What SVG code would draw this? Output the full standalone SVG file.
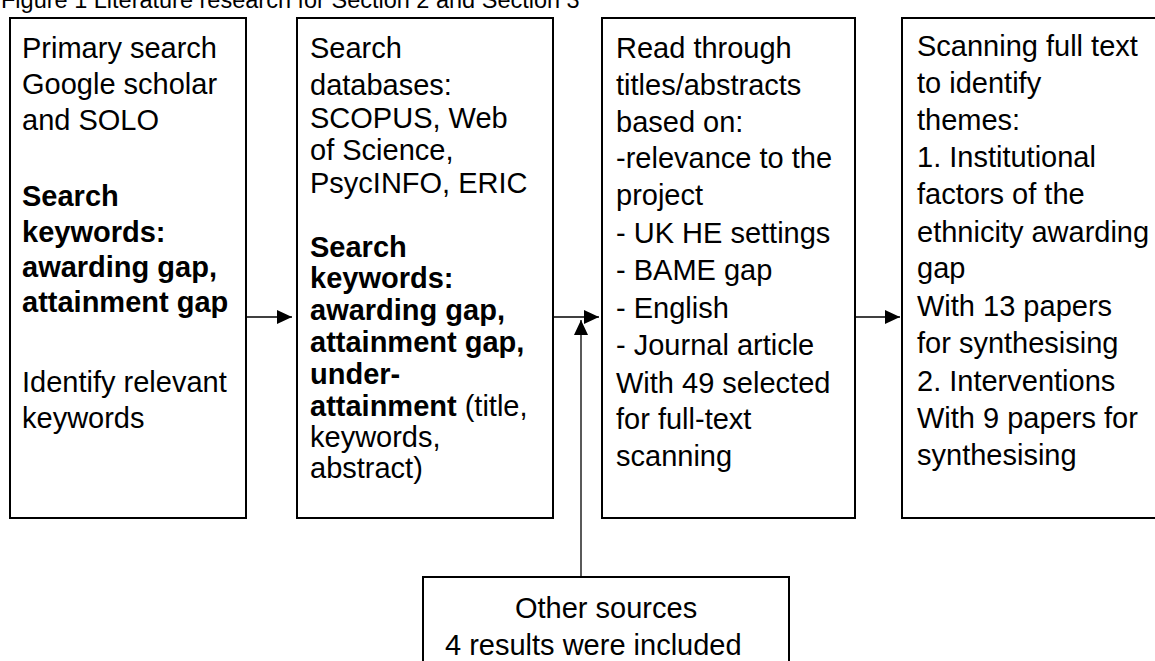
<svg xmlns="http://www.w3.org/2000/svg" width="1155" height="661" viewBox="0 0 1155 661">
<style>
text{font-family:"Liberation Sans",Arial,sans-serif;font-size:29px;fill:#000}
.b{font-weight:bold}
.box{fill:#fff;stroke:#000;stroke-width:2}
.conn{stroke:#000;stroke-width:1.3;fill:none}
.title{font-size:23.5px}
</style>
<defs>
<marker id="ah" markerUnits="userSpaceOnUse" markerWidth="16" markerHeight="16" refX="15" refY="7" orient="auto">
<path d="M0,0 L15,7 L0,14 Z" fill="#000"/>
</marker>
</defs>
<rect width="1155" height="661" fill="#fff"/>
<text class="title" x="1" y="8">Figure 1 Literature research for Section 2 and Section 3</text>
<g id="connectors">
<line class="conn" x1="247" y1="317" x2="292" y2="317" marker-end="url(#ah)"/>
<line class="conn" x1="554" y1="317" x2="599" y2="317" marker-end="url(#ah)"/>
<line class="conn" x1="856" y1="317" x2="900" y2="317" marker-end="url(#ah)"/>
<line class="conn" x1="581" y1="583" x2="581" y2="320" marker-end="url(#ah)"/>
</g>
<g id="n1">
<rect class="box" x="10" y="18" width="236" height="500"/>
<text x="22" y="58">Primary search</text>
<text x="22" y="94">Google scholar</text>
<text x="22" y="130">and SOLO</text>
<text class="b" x="22" y="206">Search</text>
<text class="b" x="22" y="242">keywords:</text>
<text class="b" x="22" y="277">awarding gap,</text>
<text class="b" x="22" y="312">attainment gap</text>
<text x="22" y="392">Identify relevant</text>
<text x="22" y="428">keywords</text>
</g>
<g id="n2">
<rect class="box" x="297" y="18" width="256" height="500"/>
<text x="310" y="58">Search</text>
<text x="310" y="95">databases:</text>
<text x="310" y="128">SCOPUS, Web</text>
<text x="310" y="160">of Science,</text>
<text x="310" y="193">PsycINFO, ERIC</text>
<text class="b" x="310" y="257">Search</text>
<text class="b" x="310" y="288">keywords:</text>
<text class="b" x="310" y="320">awarding gap,</text>
<text class="b" x="310" y="352">attainment gap,</text>
<text class="b" x="310" y="384">under-</text>
<text x="310" y="416"><tspan class="b">attainment</tspan> (title,</text>
<text x="310" y="447">keywords,</text>
<text x="310" y="478">abstract)</text>
</g>
<g id="n3">
<rect class="box" x="602" y="18" width="253" height="500"/>
<text x="616" y="58">Read through</text>
<text x="616" y="95">titles/abstracts</text>
<text x="616" y="132">based on:</text>
<text x="616" y="168">-relevance to the</text>
<text x="616" y="205">project</text>
<text x="616" y="243">- UK HE settings</text>
<text x="616" y="280">- BAME gap</text>
<text x="616" y="318">- English</text>
<text x="616" y="355">- Journal article</text>
<text x="616" y="393">With 49 selected</text>
<text x="616" y="429">for full-text</text>
<text x="616" y="466">scanning</text>
</g>
<g id="n4">
<rect class="box" x="902" y="18" width="262" height="500"/>
<text x="917" y="56">Scanning full text</text>
<text x="917" y="93">to identify</text>
<text x="917" y="130">themes:</text>
<text x="917" y="167">1. Institutional</text>
<text x="917" y="204">factors of the</text>
<text x="917" y="242">ethnicity awarding</text>
<text x="917" y="278">gap</text>
<text x="917" y="316">With 13 papers</text>
<text x="917" y="353">for synthesising</text>
<text x="917" y="391">2. Interventions</text>
<text x="917" y="428">With 9 papers for</text>
<text x="917" y="465">synthesising</text>
</g>
<g id="n5">
<rect class="box" x="423" y="577" width="366" height="100"/>
<text x="515" y="618">Other sources</text>
<text x="445" y="655">4 results were included</text>
</g>
</svg>
